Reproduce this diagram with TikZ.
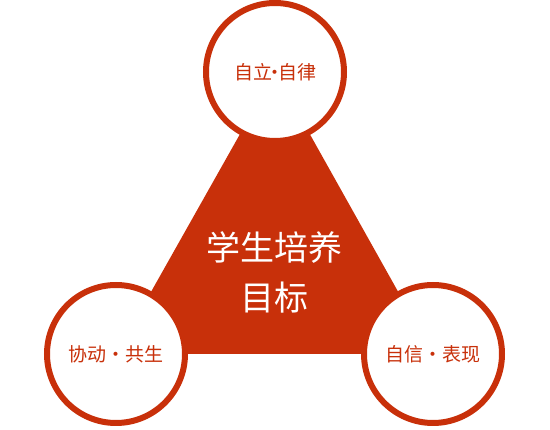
\documentclass[tikz,border=0pt]{standalone}
\usepackage{fontspec}
\newfontfamily\cjk{Noto Sans CJK SC}
\definecolor{tred}{RGB}{200,48,10}
\begin{document}
\begin{tikzpicture}[x=1pt,y=-1pt,
  ring/.style={circle,draw=tred,line width=6pt,fill=white,minimum size=138pt,inner sep=0pt,text=tred,font=\cjk\fontsize{19}{22}\selectfont},
  tri/.style={fill=tred}]
\useasboundingbox (0,0) rectangle (550,430);
\coordinate (A) at (275,72);
\coordinate (B) at (116,354);
\coordinate (C) at (433,354);
\fill[tri] (A) -- (B) -- (C) -- cycle;
\node[text=white,font=\cjk\fontsize{34}{50}\selectfont,align=center] (mid) at (274,272) {学生培养\\目标};
\node[ring] (top) at (A) {\raisebox{-3pt}{自立\makebox[6pt]{•}自律}};
\node[ring] (left) at (B) {协动・共生};
\node[ring] (right) at (C) {自信・表现};
\end{tikzpicture}
\end{document}
